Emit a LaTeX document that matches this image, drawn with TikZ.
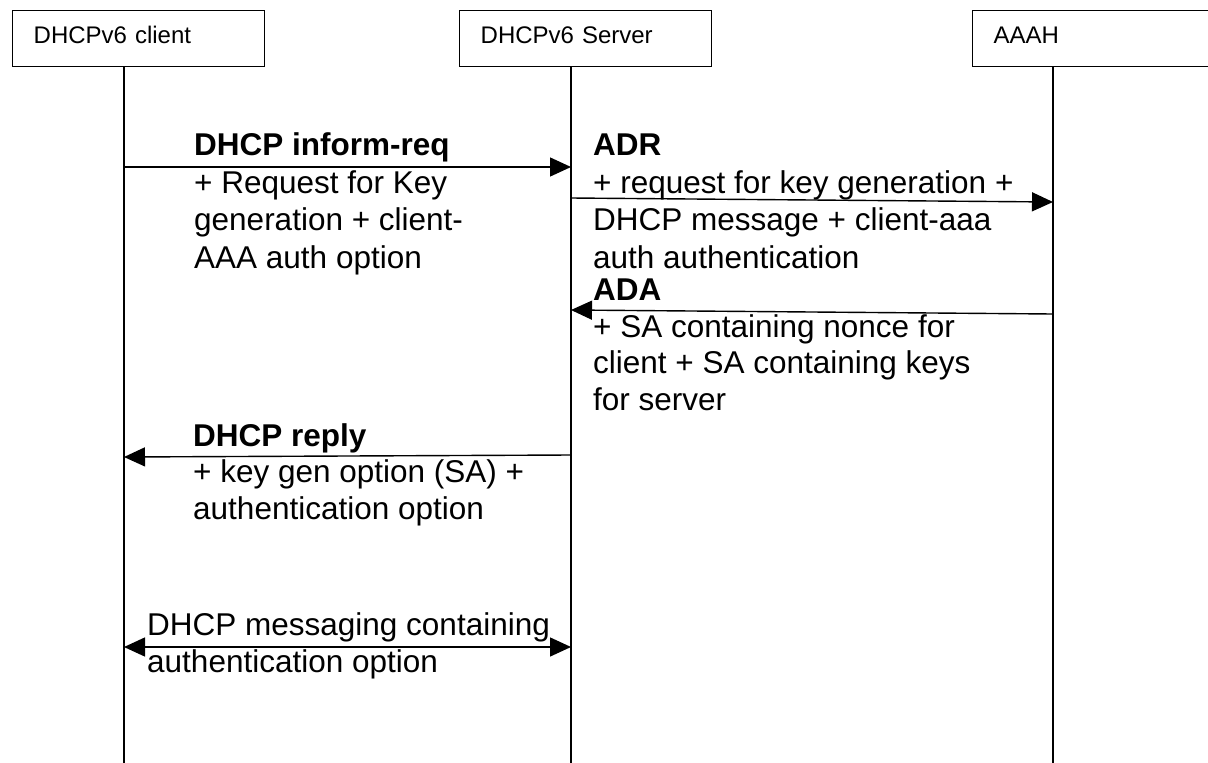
\documentclass[tikz,border=0pt]{standalone}
\usepackage{fontspec}
\setmainfont{Liberation Sans}
\usetikzlibrary{arrows.meta}
\begin{document}
\begin{tikzpicture}[x=1pt,y=-1pt,
  actor/.style={draw, line width=1.4pt, anchor=north west, inner ysep=0pt,
    inner xsep=21pt, text width=210pt, align=left, text height=33pt, text depth=23pt,
    font=\fontsize{24}{28}\selectfont},
  lifeline/.style={line width=1.4pt},
  msg/.style={line width=1.4pt, -{Triangle[length=21pt,width=19pt]}},
  dmsg/.style={line width=1.4pt, {Triangle[length=21pt,width=19pt]}-{Triangle[length=21pt,width=19pt]}},
  msgtext/.style={anchor=base west, align=left, inner sep=0pt,
    font=\fontsize{31.5}{36.5}\selectfont},
  widetext/.style={msgtext, font=\fontsize{31.5}{37.5}\selectfont}
]
\useasboundingbox (0,0) rectangle (1208,763);

% participants
\node[actor] (client) at (12,10) {DHCPv6 client};
\node[actor] (server) at (459,10) {DHCPv6 Server};
\node[actor] (aaah)   at (972,10) {AAAH};

% lifelines
\coordinate (cTop) at (124,66);  \coordinate (cBot) at (124,763);
\coordinate (sTop) at (571,66);  \coordinate (sBot) at (571,763);
\coordinate (aTop) at (1053,66); \coordinate (aBot) at (1053,763);
\draw[lifeline] (cTop) -- (cBot);
\draw[lifeline] (sTop) -- (sBot);
\draw[lifeline] (aTop) -- (aBot);

% message end points on the lifelines
\coordinate (m1a) at (124,167);  \coordinate (m1b) at (571,167);
\coordinate (m2a) at (571,198);  \coordinate (m2b) at (1053,202);
\coordinate (m3a) at (1053,314); \coordinate (m3b) at (571,310);
\coordinate (m4a) at (571,455);  \coordinate (m4b) at (124,457);
\coordinate (m5a) at (124,647);  \coordinate (m5b) at (571,647);

\draw[msg]  (m1a) -- (m1b);
\draw[msg]  (m2a) -- (m2b);
\draw[msg]  (m3a) -- (m3b);
\draw[msg]  (m4a) -- (m4b);
\draw[dmsg] (m5a) -- (m5b);

% message labels (anchored at the baseline of their last line)
\node[widetext] (informreq) at (194,268) {\textbf{DHCP inform-req}\\+ Request for Key\\generation + client-\\AAA auth option};
\node[widetext] (adr) at (593,268) {\textbf{ADR}\\+ request for key generation +\\DHCP message + client-aaa\\auth authentication};
\node[msgtext] (ada) at (593,410) {\textbf{ADA}\\+ SA containing nonce for\\client + SA containing keys\\for server};
\node[msgtext] (reply) at (193,519) {\textbf{DHCP reply}\\+ key gen option (SA) +\\authentication option};
\node[msgtext] (messaging) at (147,672) {DHCP messaging containing\\authentication option};
\end{tikzpicture}
\end{document}
